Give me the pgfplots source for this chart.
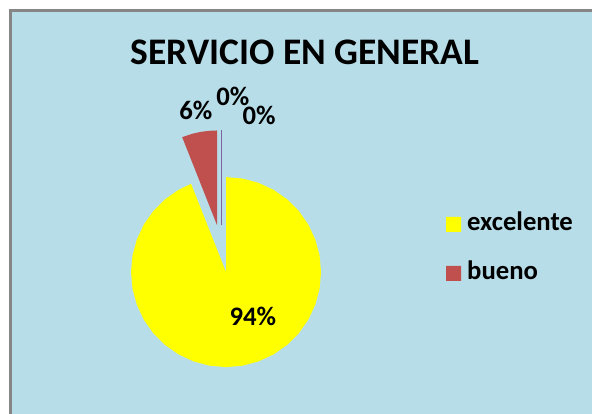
\documentclass[border=0pt]{standalone}
\usepackage{fontspec}
\setmainfont{Carlito}
\usepackage{pgfplots}
\pgfplotsset{compat=1.18}
\usepgfplotslibrary{polar}
\definecolor{bgblue}{RGB}{183,221,232}
\definecolor{bordergray}{RGB}{134,134,134}
\definecolor{pieyellow}{RGB}{255,255,0}
\definecolor{piered}{RGB}{192,80,77}
\definecolor{zeroline}{RGB}{128,100,162}
\begin{document}
\begin{tikzpicture}
\fill[white] (0,0) rectangle (592pt,414pt);
\fill[bgblue] (10pt,0pt) rectangle (592pt,403.7pt);
\draw[bordergray, line width=3pt] (10pt,0pt) -- (10pt,403.7pt) -- (592pt,403.7pt);
\begin{axis}[
  at={(0pt,0pt)}, anchor=south west,
  scale only axis, x=1pt, y=1pt,
  xmin=-221.6, xmax=370.4, ymin=-165.2, ymax=248.8,
  hide axis, clip=false,
]
% excelente 94%
\addplot[fill=pieyellow, draw=none, data cs=polar, xshift=4.45pt, yshift=-23.33pt]
  coordinates {(0,0) (90,95) (80,95) (70,95) (60,95) (50,95) (40,95) (30,95) (20,95) (10,95) (0,95)
  (-10,95) (-20,95) (-30,95) (-40,95) (-50,95) (-60,95) (-70,95) (-80,95) (-90,95) (-100,95)
  (-110,95) (-120,95) (-130,95) (-140,95) (-150,95) (-160,95) (-170,95) (-180,95) (-190,95)
  (-200,95) (-210,95) (-220,95) (-230,95) (-240,95) (-248.4,95) (0,0)};
% bueno 6%
\addplot[fill=piered, draw=none, data cs=polar, xshift=-4.45pt, yshift=23.33pt]
  coordinates {(0,0) (111.6,95) (105,95) (100,95) (95,95) (90,95) (0,0)};
% two 0% slices
\addplot[draw=zeroline, line width=0.8pt, data cs=polar, yshift=23.75pt]
  coordinates {(0,0) (90,95)};
\addplot[draw=zeroline, line width=0.8pt, data cs=polar, yshift=23.75pt]
  coordinates {(0,0) (90,95)};
% legend keys
\addplot[fill=pieyellow, draw=none]
  coordinates {(224.4,16.8) (239.4,16.8) (239.4,31.8) (224.4,31.8) (224.4,16.8)};
\addplot[fill=piered, draw=none]
  coordinates {(224.4,-32.2) (239.4,-32.2) (239.4,-17.2) (224.4,-17.2) (224.4,-32.2)};
\node[anchor=base west, inner sep=0pt, font=\fontsize{26.7}{32}\selectfont\bfseries] at (axis cs:245.4,17.8) {excelente};
\node[anchor=base west, inner sep=0pt, font=\fontsize{26.7}{32}\selectfont\bfseries] at (axis cs:245.4,-31.2) {bueno};
\node[anchor=base, font=\fontsize{37.5}{45}\selectfont\bfseries] at (axis cs:83.4,183.8) {SERVICIO EN GENERAL};
\node[anchor=base, font=\fontsize{26.7}{32}\selectfont\bfseries] at (axis cs:-25.8,129.5) {6\%};
\node[anchor=base, font=\fontsize{26.7}{32}\selectfont\bfseries] at (axis cs:11.2,143.1) {0\%};
\node[anchor=base, font=\fontsize{26.7}{32}\selectfont\bfseries] at (axis cs:37.6,124.5) {0\%};
\node[anchor=base, font=\fontsize{26.7}{32}\selectfont\bfseries] at (axis cs:31.2,-77.2) {94\%};
\end{axis}
\pgfresetboundingbox
\path[use as bounding box] (0,0) rectangle (592pt,414pt);
\end{tikzpicture}
\end{document}
